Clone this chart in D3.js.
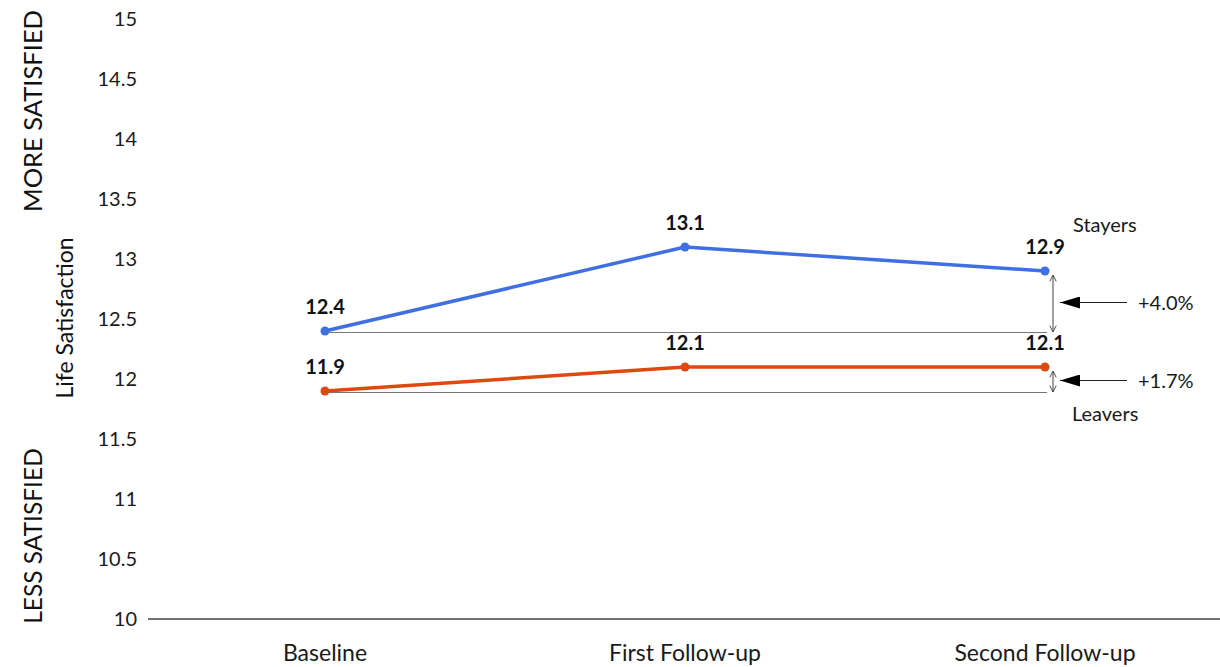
<!DOCTYPE html>
<html>
<head>
<meta charset="utf-8">
<script src="https://cdn.jsdelivr.net/npm/d3@7"></script>
<style>
  html, body { margin: 0; padding: 0; background: #fff; }
  svg { display: block; font-family: Lato, "Open Sans", sans-serif; }
</style>
</head>
<body>
<svg id="chart" width="1220" height="667"></svg>
<script>
// Survey waves and mean life-satisfaction scores
const waves = ["Baseline", "First Follow-up", "Second Follow-up"];
const stayers = [12.4, 13.1, 12.9];
const leavers = [11.9, 12.1, 12.1];
const yTicks = [10, 10.5, 11, 11.5, 12, 12.5, 13, 13.5, 14, 14.5, 15];
const changeLabels = ["+4.0%", "+1.7%"];

const colors = { stayers: "#3f6fe0", leavers: "#dd4a10" };

const svg = d3.select("#chart");

const x = d3.scalePoint().domain(waves).range([325, 1045]);
const y = d3.scaleLinear().domain([10, 15]).range([619, 19]);

// Y tick labels (no axis line)
svg.append("g")
  .selectAll("text")
  .data(yTicks)
  .join("text")
  .attr("x", 137)
  .attr("y", d => y(d))
  .attr("dy", "0.35em")
  .attr("text-anchor", "end")
  .attr("font-size", 20)
  .attr("fill", "#1a1a1a")
  .text(d => d);

// X baseline
svg.append("line")
  .attr("x1", 148).attr("x2", 1220)
  .attr("y1", y(10)).attr("y2", y(10))
  .attr("stroke", "#444").attr("stroke-width", 1.5);

// Category labels
svg.append("g")
  .selectAll("text")
  .data(waves)
  .join("text")
  .attr("x", d => x(d))
  .attr("y", 653)
  .attr("dy", "0.35em")
  .attr("text-anchor", "middle")
  .attr("font-size", 23)
  .attr("fill", "#1a1a1a")
  .text(d => d);

// Side annotations
function vText(txt, cx, cy, size) {
  svg.append("text")
    .attr("transform", `translate(${cx},${cy}) rotate(-90)`)
    .attr("text-anchor", "middle")
    .attr("dy", "0.35em")
    .attr("font-size", size)
    .attr("fill", "#111")
    .text(txt);
}
vText("MORE SATISFIED", 33, 111, 25.5);
vText("LESS SATISFIED", 33, 536, 24.5);
vText("Life Satisfaction", 65, 318, 23);

// Grey reference lines at baseline level
const xEnd = 1047;
[stayers, leavers].forEach(s => {
  svg.append("line")
    .attr("x1", x(waves[0])).attr("x2", xEnd)
    .attr("y1", y(s[0]) + 1.5).attr("y2", y(s[0]) + 1.5)
    .attr("stroke", "#777").attr("stroke-width", 1);
});

// Series lines, points and value labels
const line = d3.line().x((d, i) => x(waves[i])).y(d => y(d));
[[stayers, colors.stayers], [leavers, colors.leavers]].forEach(([s, c]) => {
  svg.append("path")
    .attr("d", line(s))
    .attr("fill", "none")
    .attr("stroke", c)
    .attr("stroke-width", 3.5)
    .attr("stroke-linejoin", "round");
  svg.append("g")
    .selectAll("circle")
    .data(s)
    .join("circle")
    .attr("cx", (d, i) => x(waves[i]))
    .attr("cy", d => y(d))
    .attr("r", 4.5)
    .attr("fill", c);
  svg.append("g")
    .selectAll("text")
    .data(s)
    .join("text")
    .attr("x", (d, i) => x(waves[i]))
    .attr("y", d => y(d) - 17)
    .attr("text-anchor", "middle")
    .attr("font-size", 20)
    .attr("font-weight", "bold")
    .attr("fill", "#111")
    .text(d => d.toFixed(1));
});

// Markers for arrows
const defs = svg.append("defs");
defs.append("marker")
  .attr("id", "open").attr("viewBox", "0 0 10 10")
  .attr("refX", 9).attr("refY", 5)
  .attr("markerWidth", 8).attr("markerHeight", 8)
  .attr("markerUnits", "userSpaceOnUse")
  .attr("orient", "auto-start-reverse")
  .append("path")
  .attr("d", "M1,1 L9,5 L1,9")
  .attr("fill", "none").attr("stroke", "#444").attr("stroke-width", 1.2);
defs.append("marker")
  .attr("id", "solid").attr("viewBox", "0 0 10 10")
  .attr("refX", 10).attr("refY", 5)
  .attr("markerWidth", 20).attr("markerHeight", 12)
  .attr("markerUnits", "userSpaceOnUse")
  .attr("orient", "auto")
  .attr("preserveAspectRatio", "none")
  .append("path")
  .attr("d", "M0,0 L10,5 L0,10 Z")
  .attr("fill", "#000");

// Change brackets: double-headed span, pointer arrow and label
const bx = 1053;
[stayers, leavers].forEach((s, k) => {
  const top = y(s[2]) + 4;
  const bot = y(s[0]) + 1;
  svg.append("line")
    .attr("x1", bx).attr("x2", bx)
    .attr("y1", top).attr("y2", bot)
    .attr("stroke", "#444").attr("stroke-width", 1)
    .attr("marker-start", "url(#open)")
    .attr("marker-end", "url(#open)");
  const my = (top + bot) / 2 - 1;
  svg.append("line")
    .attr("x1", 1127).attr("x2", 1060)
    .attr("y1", my).attr("y2", my)
    .attr("stroke", "#222").attr("stroke-width", 1)
    .attr("marker-end", "url(#solid)");
  svg.append("text")
    .attr("x", 1138).attr("y", my)
    .attr("dy", "0.35em")
    .attr("font-size", 20)
    .attr("fill", "#1a1a1a")
    .text(changeLabels[k]);
});

// Series names
svg.append("text").attr("x", 1073).attr("y", 225).attr("dy", "0.35em")
  .attr("font-size", 20).attr("fill", "#1a1a1a").text("Stayers");
svg.append("text").attr("x", 1072).attr("y", 414).attr("dy", "0.35em")
  .attr("font-size", 20).attr("fill", "#1a1a1a").text("Leavers");
</script>
</body>
</html>
